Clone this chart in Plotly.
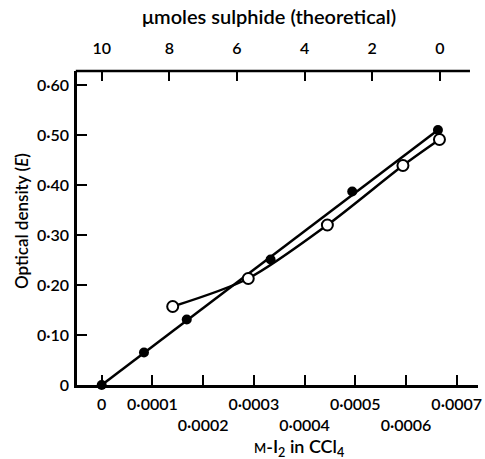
import plotly.graph_objects as go

# Data
conc_filled = [0.0, 0.0000834, 0.0001677, 0.000333, 0.000494, 0.000663]
od_filled = [0.0, 0.065, 0.131, 0.251, 0.387, 0.510]
conc_open = [0.00014, 0.000289, 0.000445, 0.000594, 0.000666]
od_open = [0.157, 0.213, 0.320, 0.439, 0.491]

x_tickvals = [0, 0.0001, 0.0002, 0.0003, 0.0004, 0.0005, 0.0006, 0.0007]
x_ticktext = ["0", "0·0001", "<br>0·0002", "0·0003", "<br>0·0004", "0·0005", "<br>0·0006", "0·0007"]
y_tickvals = [0, 0.1, 0.2, 0.3, 0.4, 0.5, 0.6]
y_ticktext = ["0", "0·10", "0·20", "0·30", "0·40", "0·50", "0·60"]
top_tickvals = [10, 8, 6, 4, 2, 0]
top_ticktext = ["10", "8", "6", "4", "2", "0"]

FONT = "Lato"
fig = go.Figure()

# fitted straight line through filled points
fig.add_trace(go.Scatter(x=[conc_filled[0], conc_filled[-1]], y=[od_filled[0], od_filled[-1]],
                         mode="lines", line=dict(color="black", width=2.5),
                         showlegend=False, cliponaxis=False, hoverinfo="skip"))
# curve through open points
fig.add_trace(go.Scatter(x=conc_open, y=od_open, mode="lines+markers",
                         line=dict(color="black", width=2.5, shape="spline", smoothing=0.8),
                         marker=dict(size=11, color="white", line=dict(color="black", width=2)),
                         showlegend=False, cliponaxis=False))
fig.add_trace(go.Scatter(x=conc_filled, y=od_filled, mode="markers",
                         marker=dict(size=10, color="black"),
                         showlegend=False, cliponaxis=False))
# invisible trace to activate the top axis
fig.add_trace(go.Scatter(x=top_tickvals, y=[None] * len(top_tickvals), xaxis="x2", yaxis="y",
                         mode="markers", showlegend=False, hoverinfo="skip"))

tickfont = dict(family=FONT, size=16, color="black", weight=600)
fig.update_layout(
    width=485, height=459,
    margin=dict(l=77, r=7, t=71, b=74, autoexpand=False),
    plot_bgcolor="white", paper_bgcolor="white",
    xaxis=dict(range=[-0.0000487, 0.000742], tickvals=x_tickvals, ticktext=x_ticktext,
               tickangle=0, automargin=False,
               ticks="inside", ticklen=10, tickwidth=2, tickcolor="black",
               showline=True, linewidth=2.5, linecolor="black",
               showgrid=False, zeroline=False, tickfont=tickfont, ticklabelstandoff=3),
    yaxis=dict(range=[0, 0.628], tickvals=y_tickvals, ticktext=y_ticktext, automargin=False,
               ticks="inside", ticklen=10, tickwidth=2, tickcolor="black",
               showline=True, linewidth=2.5, linecolor="black",
               showgrid=False, zeroline=False, tickfont=tickfont, ticklabelstandoff=2),
    xaxis2=dict(overlaying="x", side="top", anchor="y", range=[10.73, -1.13],
                tickvals=top_tickvals, ticktext=top_ticktext, tickangle=0, automargin=False,
                ticks="inside", ticklen=10, tickwidth=2, tickcolor="black",
                showline=False, showgrid=False, zeroline=False, tickfont=tickfont,
                ticklabelstandoff=13),
    shapes=[dict(type="line", xref="paper", yref="paper", x0=-0.003, x1=0.98, y0=1, y1=1,
                 line=dict(color="black", width=2.5))],
    annotations=[
        dict(text="μmoles sulphide (theoretical)", xref="paper", yref="paper",
             x=0.479, y=1.175, xanchor="center", yanchor="middle", showarrow=False,
             font=dict(family=FONT, size=20, color="black", weight=600)),
        dict(text="Optical density (<i>E</i>)", xref="paper", yref="paper",
             x=-0.14, y=0.522, xanchor="center", yanchor="middle", textangle=-90, showarrow=False,
             font=dict(family=FONT, size=17, color="black", weight=600)),
        dict(text="<span style='font-size:13px'>M</span>-I<sub>2</sub> in CCl<sub>4</sub>",
             xref="paper", yref="paper", x=0.554, y=-0.2, xanchor="center", yanchor="middle",
             showarrow=False, font=dict(family=FONT, size=18, color="black", weight=600)),
    ],
)

fig.write_html("out.html")
